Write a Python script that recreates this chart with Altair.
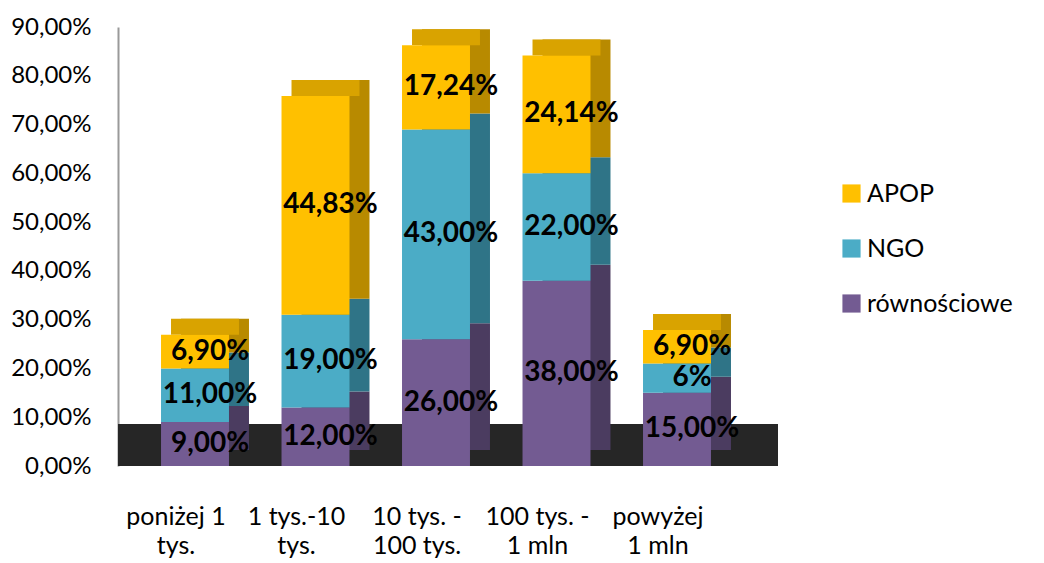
import altair as alt
import pandas as pd

categories = ["poniżej 1\ntys.", "1 tys.-10\ntys.", "10 tys. -\n100 tys.", "100 tys. -\n1 mln", "powyżej\n1 mln"]
series = ["równościowe", "NGO", "APOP"]
rownosciowe = [9.00, 12.00, 26.00, 38.00, 15.00]
ngo = [11.00, 19.00, 43.00, 22.00, 6.00]
apop = [6.90, 44.83, 17.24, 24.14, 6.90]
label_rownosciowe = ["9,00%", "12,00%", "26,00%", "38,00%", "15,00%"]
label_ngo = ["11,00%", "19,00%", "43,00%", "22,00%", "6%"]
label_apop = ["6,90%", "44,83%", "17,24%", "24,14%", "6,90%"]

front_colors = {"APOP": "#FFC000", "NGO": "#4BACC6", "równościowe": "#735B92"}
side_colors = {"APOP": "#B88A00", "NGO": "#2F7487", "równościowe": "#4B3C60"}

rows = []
for i, cat in enumerate(categories):
    base = 0.0
    for s, vals, labs in [("równościowe", rownosciowe, label_rownosciowe),
                          ("NGO", ngo, label_ngo),
                          ("APOP", apop, label_apop)]:
        v = vals[i]
        rows.append({"cat": cat, "series": s, "order": series.index(s),
                     "y0": base, "y1": base + v, "mid": base + v / 2,
                     "label": labs[i], "side": side_colors[s]})
        base += v
df = pd.DataFrame(rows)
tops = df.groupby("cat", sort=False)["y1"].max().reset_index().rename(columns={"y1": "total"})

W, H = 636, 439
FONT = "Lato"

xenc = alt.X("cat:N", sort=categories,
             scale=alt.Scale(paddingInner=0.436, paddingOuter=0.357),
             axis=alt.Axis(title=None, domain=False, ticks=False, labelAngle=0,
                           labelExpr="split(datum.label, '\\n')",
                           labelFontSize=25, labelFont=FONT, labelColor="#000000",
                           labelPadding=38, labelLineHeight=29, labelOffset=-19,
                           labelBaseline="top"))
yscale = alt.Scale(domain=[0, 90], nice=False)
yaxis = alt.Axis(title=None, values=list(range(0, 91, 10)), grid=False, ticks=False,
                 labelExpr="replace(format(datum.value, '.2f'), '.', ',') + '%'",
                 labelFontSize=24, labelFont=FONT, labelColor="#000000",
                 labelPadding=27, domainColor="#9A9A9A", domainWidth=2)

floor = alt.Chart(pd.DataFrame({"z": [0]})).mark_rect(
    color="#262626", y2Offset=-42
).encode(
    x=alt.value(0), x2=alt.value(660),
    y=alt.Y("z:Q", scale=yscale, axis=yaxis), y2=alt.Y2("z:Q"),
)

back = alt.Chart(df).mark_bar(xOffset=20, yOffset=-16, y2Offset=-16).encode(
    x=xenc,
    y=alt.Y("y1:Q", scale=yscale, axis=yaxis),
    y2="y0:Q",
    color=alt.Color("side:N", scale=None, legend=None),
)

top = alt.Chart(tops).mark_bar(xOffset=10, yOffset=-16, color="#D9A300").encode(
    x=xenc,
    y=alt.Y("total:Q", scale=yscale, axis=yaxis),
    y2="total:Q",
)

front = alt.Chart(df).mark_bar().encode(
    x=xenc,
    y=alt.Y("y1:Q", scale=yscale, axis=yaxis),
    y2="y0:Q",
    color=alt.Color("series:N",
                    scale=alt.Scale(domain=list(front_colors.keys()), range=list(front_colors.values())),
                    legend=alt.Legend(title=None, orient="none", legendX=721, legendY=154,
                                      symbolType="square", symbolSize=330, symbolStrokeWidth=1,
                                      labelFontSize=25, labelFont=FONT, labelColor="#000000",
                                      rowPadding=29, labelOffset=3)),
    order=alt.Order("order:Q"),
)

text = alt.Chart(df).mark_text(fontSize=28, fontWeight="bold", font=FONT, color="#000000", dx=15).encode(
    x=xenc,
    y=alt.Y("mid:Q", scale=yscale, axis=yaxis),
    text="label:N",
)

chart = alt.layer(floor, back, top, front, text).resolve_scale(color="independent").properties(
    width=W, height=H,
    autosize=alt.AutoSizeParams(type="none"),
    padding={"left": 118, "top": 27, "right": 1044 - 118 - W, "bottom": 563 - 27 - H},
    background="#FFFFFF",
).configure_view(stroke=None)

chart.save("out.html", embed_options={"renderer": "svg", "actions": False})
